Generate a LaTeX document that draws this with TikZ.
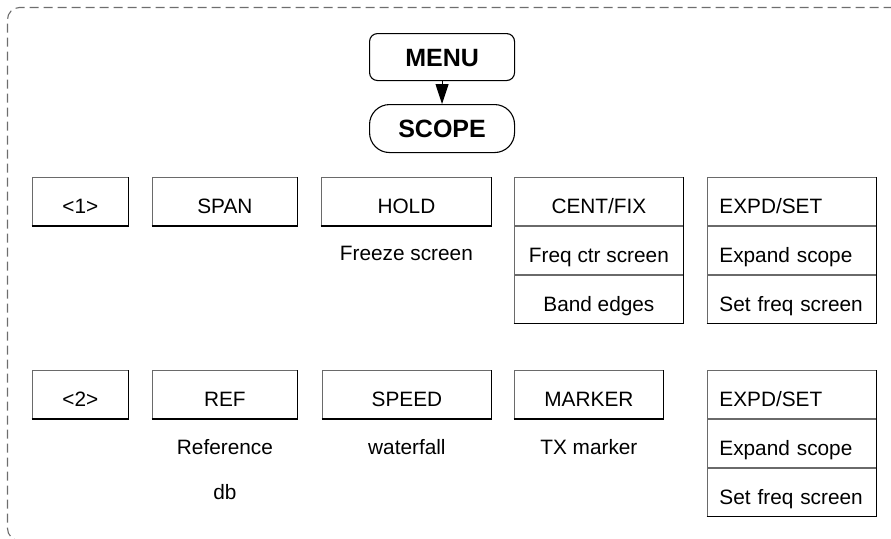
\documentclass[tikz,border=0pt]{standalone}
\usepackage{fontspec}
\setmainfont{Liberation Sans}
\usetikzlibrary{arrows.meta}
\newcommand\rgfont{\fontsize{20.8}{24}\selectfont}
\newcommand\bdfont{\fontsize{25}{30}\selectfont\bfseries}
\definecolor{edgegray}{HTML}{6A6A6A}
\definecolor{dashgray}{HTML}{6E6E6E}
\begin{document}
\begin{tikzpicture}[x=1pt,y=-1pt,
  cell/.style={draw=edgegray, line width=0.8pt, anchor=north west, minimum height=48pt,
    inner xsep=0pt, inner ysep=0pt, text height=24pt, text depth=0pt, font=\rgfont},
  lcell/.style={cell, inner xsep=12pt, text width=145pt, align=left},
  botedge/.style={black, line width=1.8pt},
  rightedge/.style={black, line width=1.0pt},
  caption/.style={anchor=base, font=\rgfont, inner sep=0pt},
  dashborder/.style={dashgray, line width=1.1pt, dash pattern=on 9pt off 5pt, rounded corners=12pt},
  topbox/.style={draw=black, line width=1.1pt, anchor=north west, minimum width=145pt,
    inner sep=0pt, text height=18pt, text depth=0pt, font=\bdfont},
]
\useasboundingbox (0,0) rectangle (891,538);
% dashed frame
\draw[dashborder] (905,540.5) -- (7.5,540.5) -- (7.5,7.5) -- (905,7.5);

% MENU / SCOPE
\node[topbox, rounded corners=8pt, minimum height=47pt] (menu) at (369,33) {MENU};
\node[topbox, rounded corners=20pt, minimum height=48pt] (scope) at (369,104) {SCOPE};
\draw[line width=1pt, -{Triangle[length=20pt,width=13pt]}] (menu.south) -- (scope.north);

% Row 1
\node[cell, minimum width=96pt] (k1) at (32,177) {<1>};
\node[cell, minimum width=145pt] (span) at (152,177) {SPAN};
\node[cell, minimum width=170pt] (hold) at (321,177) {HOLD};
\node[caption] (freeze) at (hold.center |- 0,260) {Freeze screen};
\node[cell, minimum width=169pt] (centa) at (514,177) {CENT/FIX};
\node[cell, minimum width=169pt] (centb) at (centa.south west) {Freq ctr screen};
\node[cell, minimum width=169pt] (centc) at (centb.south west) {Band edges};
\node[lcell] (expa) at (707,177) {EXPD/SET};
\node[lcell] (expb) at (expa.south west) {Expand scope};
\node[lcell] (expc) at (expb.south west) {Set freq screen};

% Row 2
\node[cell, minimum width=96pt] (k2) at (32,370) {<2>};
\node[cell, minimum width=145pt] (ref) at (152,370) {REF};
\node[caption] (refcap) at (ref.center |- 0,454) {Reference};
\node[caption] (dbcap) at (ref.center |- 0,499) {db};
\node[cell, minimum width=169pt] (speed) at (322,370) {SPEED};
\node[caption] (water) at (speed.center |- 0,454) {waterfall};
\node[cell, minimum width=149pt] (marker) at (514,370) {MARKER};
\node[caption] (txcap) at (marker.center |- 0,454) {TX marker};
\node[lcell] (fexpa) at (707,370) {EXPD/SET};
\node[lcell] (fexpb) at (fexpa.south west) {Expand scope};
\node[lcell] (fexpc) at (fexpb.south west) {Set freq screen};

% heavier right and bottom edges
\foreach \t/\b in {k1/k1, span/span, hold/hold, centa/centc, expa/expc,
                   k2/k2, ref/ref, speed/speed, marker/marker, fexpa/fexpc}{
  \draw[rightedge] (\t.north east) -- (\b.south east);
  \draw[botedge] ([xshift=-0.5pt]\b.south west) -- ([xshift=0.5pt]\b.south east);
}
\end{tikzpicture}
\end{document}
